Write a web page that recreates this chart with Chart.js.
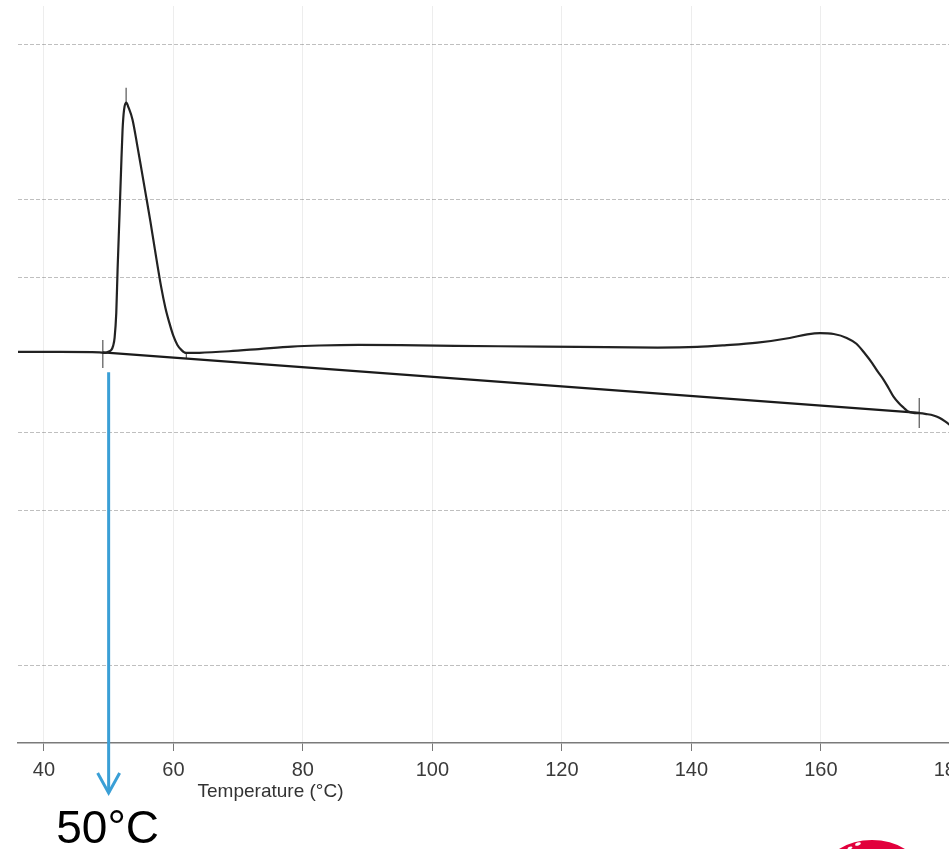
<!DOCTYPE html>
<html>
<head>
<meta charset="utf-8">
<script src="https://cdn.jsdelivr.net/npm/chart.js@4/dist/chart.umd.min.js"></script>
<style>
  html, body { margin: 0; padding: 0; background: #fff; overflow: hidden; }
  canvas { display: block; }
</style>
</head>
<body>
<canvas id="dsc" width="974" height="849"></canvas>
<script>
// DSC heating trace: temperature (°C) vs heat flow (arbitrary units)
const temperature = [
  36.0, 42.5, 48.6, 49.4, 49.85, 50.42, 50.69, 50.92, 51.18, 51.38, 51.69, 51.92,
  52.15, 52.38, 52.72, 53.08, 53.69, 54.46, 55.08, 55.8, 56.46, 57.08, 58.11, 58.77,
  59.38, 60.0, 60.62, 61.23, 61.95, 64.0, 68.6, 73.2, 78.3, 82.5, 88.6, 97.9,
  110.2, 122.5, 134.8, 140.9, 145.1, 150.2, 155.2, 157.9, 159.9, 162.0, 164.0, 165.5,
  166.8, 167.9, 168.8, 169.7, 170.5, 171.2, 172.0, 172.8, 173.5, 174.3, 175.2, 176.3,
  177.4, 178.3, 179.2, 180.2, 181.2, 183.0
];
const heatFlow = [
  5.041, 5.041, 5.035, 5.028, 5.040, 5.067, 5.119, 5.222, 5.544, 6.099, 6.833, 7.388,
  7.904, 8.162, 8.254, 8.190, 8.035, 7.684, 7.388, 7.040, 6.717, 6.395, 5.879, 5.608,
  5.415, 5.247, 5.131, 5.067, 5.028, 5.030, 5.050, 5.078, 5.110, 5.124, 5.132, 5.125,
  5.114, 5.106, 5.097, 5.105, 5.126, 5.160, 5.220, 5.268, 5.284, 5.272, 5.222, 5.146,
  5.020, 4.900, 4.786, 4.682, 4.570, 4.468, 4.386, 4.322, 4.272, 4.256, 4.252, 4.240,
  4.222, 4.192, 4.145, 4.080, 4.015, 3.910
];

// Integration baseline drawn under the melting peaks
const baselineTemp = [49.1, 175.2];
const baselineFlow = [5.035, 4.255];

// Vertical marks: onset, peak, end of first peak, end of second peak
const markerTemp = [49.1, 52.7, 62.0, 175.2];
const markerLow  = [4.835, 8.226, 4.960, 4.061];
const markerHigh = [5.196, 8.445, 5.040, 4.448];

// Axis ticks
const xTicks = [40, 60, 80, 100, 120, 140, 160, 180];
const xTitle = 'Temperature (°C)';
const xTitleAt = 75;

// Highlighted onset temperature
const onsetTemp = 50;
const onsetLabel = '50°C';
const arrowTopFlow = 4.78;

const FONT = '"Liberation Sans", Arial, Helvetica, sans-serif';

const traceData = temperature.map((t, i) => ({ x: t, y: heatFlow[i] }));
const baselineData = baselineTemp.map((t, i) => ({ x: t, y: baselineFlow[i] }));

const markerSets = markerTemp.map((t, i) => ({
  data: [{ x: t, y: markerLow[i] }, { x: t, y: markerHigh[i] }],
  borderColor: '#555',
  borderWidth: 1.2,
  pointRadius: 0,
  fill: false
}));

const overlay = {
  id: 'overlay',
  afterDraw(chart) {
    const { ctx, chartArea, scales } = chart;
    const xs = scales.x, ys = scales.y;
    ctx.save();

    // axis title
    ctx.font = '19px ' + FONT;
    ctx.fillStyle = '#333';
    ctx.textAlign = 'center';
    ctx.textBaseline = 'alphabetic';
    ctx.fillText(xTitle, xs.getPixelForValue(xTitleAt), chartArea.bottom + 54);

    // onset arrow
    const ax = xs.getPixelForValue(onsetTemp);
    const top = ys.getPixelForValue(arrowTopFlow);
    const tip = chartArea.bottom + 50;
    ctx.strokeStyle = '#3a9fd6';
    ctx.lineWidth = 3;
    ctx.lineCap = 'butt';
    ctx.beginPath();
    ctx.moveTo(ax, top);
    ctx.lineTo(ax, tip);
    ctx.stroke();
    ctx.lineJoin = 'miter';
    ctx.beginPath();
    ctx.moveTo(ax - 11, tip - 20);
    ctx.lineTo(ax, tip);
    ctx.lineTo(ax + 11, tip - 20);
    ctx.stroke();

    // onset label
    ctx.font = '46px ' + FONT;
    ctx.fillStyle = '#000';
    ctx.textAlign = 'center';
    ctx.fillText(onsetLabel, ax - 1, chartArea.bottom + 100);

    // corner emblem
    ctx.fillStyle = '#e2003c';
    ctx.beginPath();
    ctx.ellipse(872, 870, 46, 30, 0, 0, Math.PI * 2);
    ctx.fill();
    ctx.fillStyle = '#fff';
    ctx.beginPath();
    ctx.ellipse(858, 844, 3, 1.5, -0.3, 0, Math.PI * 2);
    ctx.fill();
    ctx.beginPath();
    ctx.ellipse(850, 848, 2.5, 1.2, -0.3, 0, Math.PI * 2);
    ctx.fill();

    ctx.restore();
  }
};

new Chart(document.getElementById('dsc'), {
  type: 'line',
  data: {
    datasets: [
      {
        data: traceData,
        borderColor: '#222',
        borderWidth: 2.2,
        pointRadius: 0,
        cubicInterpolationMode: 'monotone',
        fill: false
      },
      {
        data: baselineData,
        borderColor: '#1a1a1a',
        borderWidth: 2.4,
        pointRadius: 0,
        fill: false
      },
      ...markerSets
    ]
  },
  options: {
    responsive: false,
    animation: false,
    events: [],
    layout: { padding: { left: 18, right: 0, top: 6, bottom: 60 } },
    plugins: { legend: { display: false }, tooltip: { enabled: false } },
    scales: {
      x: {
        type: 'linear',
        min: 36,
        max: 183,
        afterBuildTicks: (scale) => { scale.ticks = xTicks.map(v => ({ value: v })); },
        ticks: {
          autoSkip: false,
          maxRotation: 0,
          padding: 7,
          color: '#3a3a3a',
          font: { family: FONT, size: 20 }
        },
        grid: {
          color: 'rgba(0,0,0,0.07)',
          lineWidth: 1,
          tickLength: 8,
          tickColor: '#777'
        },
        border: { display: true, color: '#7a7a7a', width: 1.5 }
      },
      y: {
        type: 'linear',
        min: 0,
        max: 9.5,
        afterBuildTicks: (scale) => {
          scale.ticks = [1, 2, 3, 4, 5, 6, 7, 8, 9].map(v => ({ value: v }));
        },
        ticks: { display: false },
        grid: {
          drawTicks: false,
          color: (c) => ([2, 5, 8].includes(c.tick && c.tick.value) ? 'rgba(0,0,0,0)' : 'rgba(0,0,0,0.25)'),
          lineWidth: 1
        },
        border: { display: false, dash: [4, 2] }
      }
    }
  },
  plugins: [overlay]
});
</script>
</body>
</html>
